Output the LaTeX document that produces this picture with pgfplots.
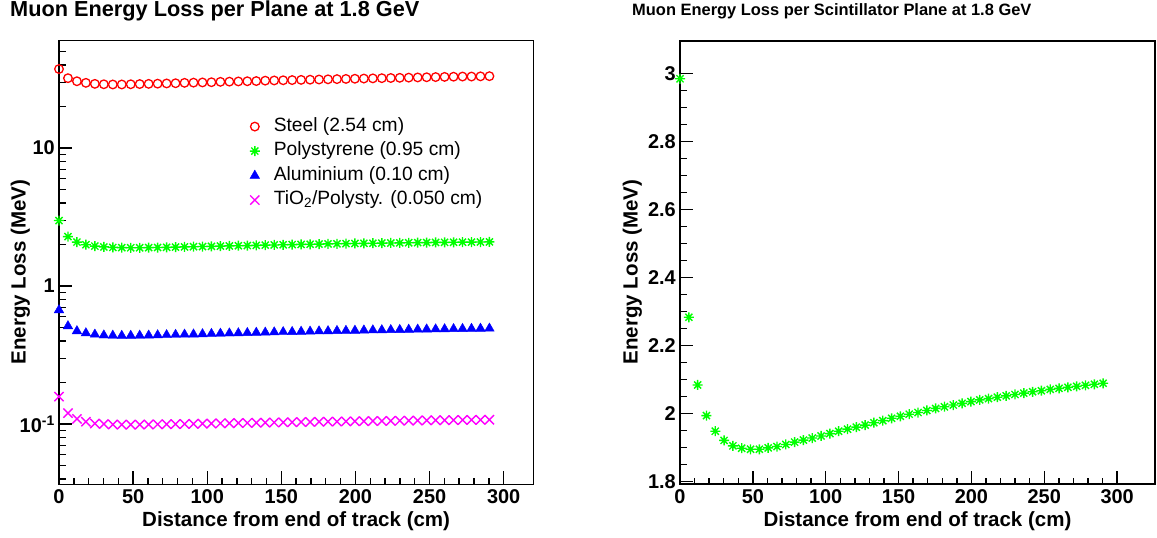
\documentclass[border=0pt]{standalone}
\usepackage{fontspec}
\setmainfont{Liberation Sans}
\usepackage{pgfplots}
\usepackage{pgfplotstable}
\pgfplotsset{compat=1.18}

\definecolor{rred}{RGB}{255,0,0}
\definecolor{rgreen}{RGB}{0,255,0}
\definecolor{rblue}{RGB}{0,0,255}
\definecolor{rmag}{RGB}{255,0,255}

\pgfdeclareplotmark{rstar}{%
  \pgfpathmoveto{\pgfqpoint{-\pgfplotmarksize}{0pt}}\pgfpathlineto{\pgfqpoint{\pgfplotmarksize}{0pt}}%
  \pgfpathmoveto{\pgfqpoint{0pt}{-\pgfplotmarksize}}\pgfpathlineto{\pgfqpoint{0pt}{\pgfplotmarksize}}%
  \pgfpathmoveto{\pgfqpoint{-.707\pgfplotmarksize}{-.707\pgfplotmarksize}}\pgfpathlineto{\pgfqpoint{.707\pgfplotmarksize}{.707\pgfplotmarksize}}%
  \pgfpathmoveto{\pgfqpoint{-.707\pgfplotmarksize}{.707\pgfplotmarksize}}\pgfpathlineto{\pgfqpoint{.707\pgfplotmarksize}{-.707\pgfplotmarksize}}%
  \pgfusepathqstroke}

\pgfplotstableread{
x steel poly al tio
0 37.4 2.984 0.670 0.158
6.05 32.1 2.283 0.513 0.120
12.1 30.5 2.084 0.472 0.109
18.15 29.7 1.994 0.456 0.104
24.2 29.2 1.948 0.446 0.101
30.25 29.0 1.921 0.440 0.100
36.3 28.9 1.905 0.438 0.0993
42.35 28.9 1.898 0.437 0.0990
48.4 29.0 1.895 0.437 0.0990
54.45 29.1 1.895 0.438 0.0991
60.5 29.2 1.899 0.439 0.0993
66.55 29.3 1.903 0.441 0.0995
72.6 29.4 1.909 0.442 0.0997
78.65 29.5 1.916 0.444 0.0999
84.7 29.7 1.922 0.446 0.1001
90.75 29.8 1.928 0.447 0.1004
96.8 29.9 1.934 0.449 0.1006
102.85 30.0 1.941 0.451 0.1009
108.9 30.2 1.948 0.453 0.1012
114.95 30.3 1.954 0.455 0.1014
121 30.4 1.960 0.456 0.1017
127.05 30.5 1.966 0.458 0.1019
133.1 30.6 1.973 0.460 0.1022
139.15 30.8 1.979 0.461 0.1024
145.2 30.9 1.986 0.463 0.1027
151.25 31.0 1.992 0.465 0.1029
157.3 31.1 1.998 0.466 0.1032
163.35 31.2 2.003 0.468 0.1034
169.4 31.3 2.009 0.469 0.1036
175.45 31.4 2.015 0.471 0.1039
181.5 31.5 2.020 0.472 0.1041
187.55 31.6 2.025 0.474 0.1043
193.6 31.7 2.030 0.475 0.1045
199.65 31.8 2.035 0.476 0.1047
205.7 31.9 2.040 0.478 0.1049
211.75 32.0 2.044 0.479 0.1051
217.8 32.1 2.048 0.480 0.1053
223.85 32.2 2.052 0.481 0.1055
229.9 32.3 2.056 0.482 0.1057
235.95 32.4 2.060 0.484 0.1059
242 32.5 2.064 0.485 0.1061
248.05 32.6 2.067 0.486 0.1063
254.1 32.7 2.071 0.487 0.1065
260.15 32.8 2.074 0.488 0.1066
266.2 32.9 2.077 0.489 0.1068
272.25 33.0 2.080 0.490 0.1070
278.3 33.0 2.083 0.491 0.1071
284.35 33.1 2.086 0.492 0.1073
290.4 33.2 2.089 0.493 0.1075
}\eloss

\pgfplotsset{rootaxis/.style={
  scale only axis, clip=false,
  axis line style={line width=1.6bp},
  every tick/.style={black, line width=1.4bp},
  tick align=inside, tick pos=left,
  major tick length=13bp, minor tick length=6.5bp,
  tick label style={font=\bfseries\fontsize{20}{20}\selectfont},
  /pgf/number format/assume math mode=true,
  xmin=0, xtick={0,50,100,150,200,250,300}, minor x tick num=4,
  xticklabel style={inner sep=2bp, yshift=-3.5bp},
  yticklabel style={inner sep=2bp, xshift=-2bp},
  label style={font=\bfseries\fontsize{20.6}{21}\selectfont},
  xlabel={Distance from end of track (cm)},
  ylabel={Energy Loss (MeV)},
  xlabel style={at={(axis description cs:0.5,-0.083)}, anchor=center},
}}

\begin{document}
\begin{tikzpicture}
\path[use as bounding box] (0,0) rectangle (1157bp,538bp);

\begin{axis}[rootaxis,
  at={(59bp,53.7bp)}, anchor=south west,
  width=474.3bp, height=443.6bp,
  xmax=320,
  ymode=log, ymin=0.0366, ymax=60,
  ytick={0.1,1,10}, yticklabels={10\textsuperscript{-1},1,10},
  minor ytick={0.04,0.05,0.06,0.07,0.08,0.09,0.2,0.3,0.4,0.5,0.6,0.7,0.8,0.9,2,3,4,5,6,7,8,9,20,30,40,50},
  ylabel style={at={(axis description cs:-0.0812,0.4786)}, anchor=center},
  title={Muon Energy Loss per Plane at 1.8 GeV},
  title style={at={(axis description cs:-0.1033,1.0534)}, anchor=west, inner sep=0pt, font=\bfseries\fontsize{21.8}{22}\selectfont},
  legend cell align=left,
  legend style={draw=none, fill=none, at={(axis description cs:0.3956,0.835)}, anchor=north west,
    font=\fontsize{19.3}{20}\selectfont, row sep=3.5bp, column sep=13bp,
    nodes={inner sep=1bp, text height=14bp, text depth=5bp}},
]
\addplot[only marks, mark=o, mark size=4.3bp, rred, mark options={line width=1.3bp}] table[x=x,y=steel]{\eloss};
\addlegendentry{Steel (2.54 cm)}
\addplot[only marks, mark=rstar, mark size=5bp, rgreen, mark options={line width=1.4bp}] table[x=x,y=poly]{\eloss};
\addlegendentry{Polystyrene (0.95 cm)}
\addplot[only marks, mark=triangle*, mark size=5.5bp, rblue] table[x=x,y=al]{\eloss};
\addlegendentry{Aluminium (0.10 cm)}
\addplot[only marks, mark=x, mark size=6.5bp, rmag, mark options={line width=1.4bp}] table[x=x,y=tio]{\eloss};
\addlegendentry{TiO\textsubscript{2}/Polysty. (0.050 cm)}
\end{axis}

\begin{axis}[rootaxis,
  at={(680bp,53.7bp)}, anchor=south west,
  width=475bp, height=443.3bp,
  xmax=326,
  ymin=1.792, ymax=3.095,
  ytick={1.8,2,2.2,2.4,2.6,2.8,3}, minor y tick num=3,
  ylabel style={at={(axis description cs:-0.1002,0.479)}, anchor=center},
  title={Muon Energy Loss per Scintillator Plane at 1.8 GeV},
  title style={at={(axis description cs:-0.101,1.0544)}, anchor=west, inner sep=0pt, font=\bfseries\fontsize{16.5}{17}\selectfont},
]
\addplot[only marks, mark=rstar, mark size=5bp, rgreen, mark options={line width=1.4bp}] table[x=x,y=poly]{\eloss};
\end{axis}
\end{tikzpicture}
\end{document}
